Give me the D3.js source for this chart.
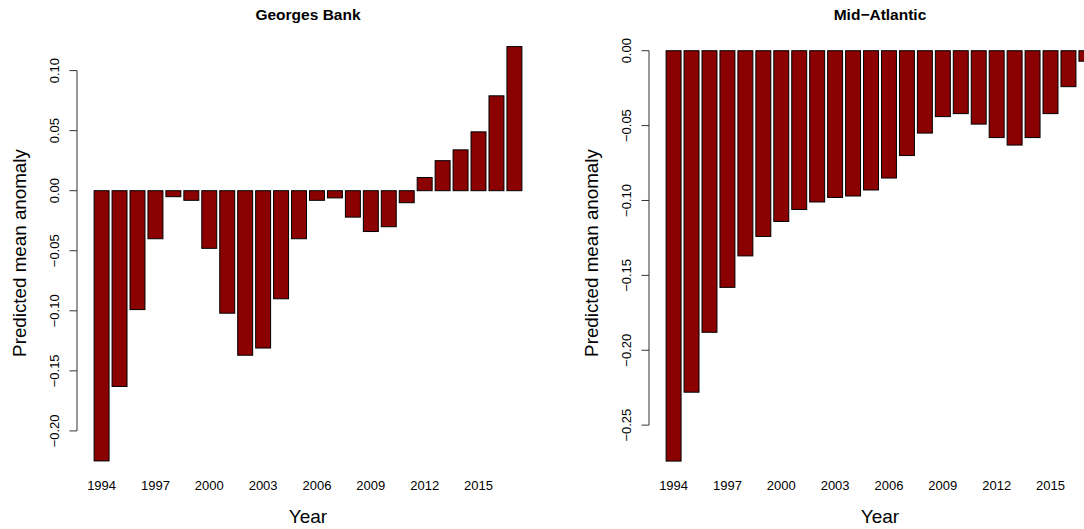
<!DOCTYPE html>
<html>
<head>
<meta charset="utf-8">
<script src="https://cdn.jsdelivr.net/npm/d3@7"></script>
<style>
  body { margin: 0; background: #fff; overflow: hidden; }
  svg { display: block; font-family: "Liberation Sans", Arial, sans-serif; }
</style>
</head>
<body>
<svg></svg>
<script>
const years = [1994, 1995, 1996, 1997, 1998, 1999, 2000, 2001, 2002, 2003, 2004, 2005,
               2006, 2007, 2008, 2009, 2010, 2011, 2012, 2013, 2014, 2015, 2016, 2017];

// predicted mean anomaly
const georgesBank = [-0.225, -0.163, -0.099, -0.040, -0.005, -0.008, -0.048, -0.102,
                     -0.137, -0.131, -0.090, -0.040, -0.008, -0.006, -0.022, -0.034,
                     -0.030, -0.010, 0.011, 0.025, 0.034, 0.049, 0.079, 0.120];
const midAtlantic = [-0.274, -0.228, -0.188, -0.158, -0.137, -0.124, -0.114, -0.106,
                     -0.101, -0.098, -0.097, -0.093, -0.085, -0.070, -0.055, -0.044,
                     -0.042, -0.049, -0.058, -0.063, -0.058, -0.042, -0.024, -0.007];

const yearLabels = [1994, 1997, 2000, 2003, 2006, 2009, 2012, 2015];
const gbTicks = [0.10, 0.05, 0.00, -0.05, -0.10, -0.15, -0.20];
const maTicks = [0.00, -0.05, -0.10, -0.15, -0.20, -0.25];

const width = 1084, height = 529;
const svg = d3.select("svg").attr("width", width).attr("height", height);

const fmt = d3.format(".2f");

function panel(left, top, title, values, ticks) {
    const plotW = 462, bottom = 477.5;
    const g = svg.append("g").attr("transform", `translate(${left},0)`);

    const x = d3.scaleBand()
        .domain(years)
        .range([0, plotW])
        .paddingInner(1 / 6)
        .paddingOuter(0.9533);

    // R-style 4% padding around range(0, values)
    const lo = Math.min(0, d3.min(values)), hi = Math.max(0, d3.max(values));
    const pad = (hi - lo) * 0.04;
    const y = d3.scaleLinear().domain([lo - pad, hi + pad]).range([bottom, top]);

    g.selectAll("rect.bar")
        .data(values)
        .enter().append("rect")
        .attr("class", "bar")
        .attr("x", (d, i) => x(years[i]))
        .attr("width", x.bandwidth())
        .attr("y", d => y(Math.max(0, d)))
        .attr("height", d => Math.abs(y(d) - y(0)))
        .attr("fill", "#8b0000")
        .attr("stroke", "#000")
        .attr("stroke-width", 1);

    // y axis: line spans first to last tick
    const ax = g.append("g").attr("stroke", "#333").attr("stroke-width", 1);
    ax.append("line")
        .attr("x1", 0).attr("x2", 0)
        .attr("y1", y(d3.max(ticks))).attr("y2", y(d3.min(ticks)));
    ax.selectAll("line.tick")
        .data(ticks)
        .enter().append("line")
        .attr("class", "tick")
        .attr("x1", 0).attr("x2", -7.5)
        .attr("y1", d => y(d)).attr("y2", d => y(d));

    g.selectAll("text.ytick")
        .data(ticks)
        .enter().append("text")
        .attr("class", "ytick")
        .attr("transform", d => `translate(-18.5,${y(d)}) rotate(-90)`)
        .attr("text-anchor", "middle")
        .attr("font-size", 13)
        .attr("fill", "#000")
        .text(d => fmt(d));

    g.selectAll("text.xlab")
        .data(yearLabels)
        .enter().append("text")
        .attr("class", "xlab")
        .attr("x", d => x(d) + x.bandwidth() / 2)
        .attr("y", 490)
        .attr("text-anchor", "middle")
        .attr("font-size", 13)
        .text(d => d);

    g.append("text")
        .attr("x", plotW / 2)
        .attr("y", 20)
        .attr("text-anchor", "middle")
        .attr("font-size", 15.5)
        .attr("font-weight", "bold")
        .text(title);

    g.append("text")
        .attr("x", plotW / 2)
        .attr("y", 523)
        .attr("text-anchor", "middle")
        .attr("font-size", 19)
        .text("Year");

    g.append("text")
        .attr("transform", `translate(-51,253) rotate(-90)`)
        .attr("text-anchor", "middle")
        .attr("font-size", 18.8)
        .text("Predicted mean anomaly");
}

panel(77, 30, "Georges Bank", georgesBank, gbTicks);
panel(649, 34.3, "Mid\u2212Atlantic", midAtlantic, maTicks);
</script>
</body>
</html>
